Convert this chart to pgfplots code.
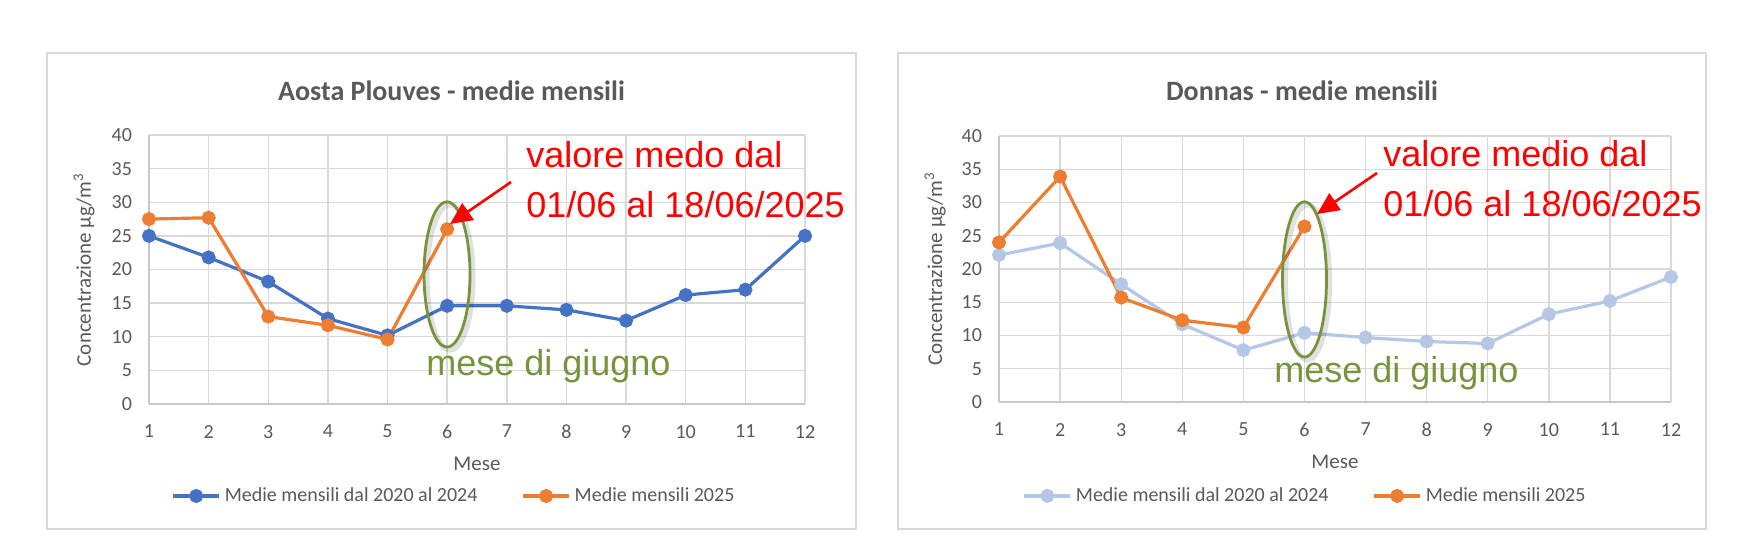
\documentclass[border=0pt]{standalone}
\usepackage{fontspec}
\setmainfont{Carlito}
\newfontfamily\arialfont{Liberation Sans}
\usepackage{pgfplots}
\pgfplotsset{compat=1.18}
\usetikzlibrary{arrows.meta}

\definecolor{serieblue}{HTML}{4472C4}
\definecolor{serieorange}{HTML}{ED7D31}
\definecolor{serielight}{HTML}{B4C7E7}
\definecolor{notegreen}{HTML}{77933C}
\definecolor{gridgray}{HTML}{D9D9D9}
\definecolor{axisgray}{HTML}{C8C8C8}
\definecolor{labelgray}{HTML}{595959}

\pgfplotsset{
  mensili/.style={
    scale only axis,
    anchor=south west,
    xmin=1, xmax=12, ymin=0, ymax=40,
    xtick={1,...,12}, ytick={0,5,...,40},
    grid=major,
    grid style={draw=gridgray, line width=0.7pt},
    axis x line*=bottom, axis y line*=left,
    axis line style={draw=axisgray, line width=0.8pt, -},
    major tick length=0pt,
    tick label style={font=\fontsize{10}{12}\selectfont, text=labelgray},
    /pgf/number format/assume math mode=true,
    xticklabel style={yshift=-7pt},
    yticklabel style={xshift=-5pt},
    xlabel={Mese},
    ylabel={Concentrazione µg/m\textsuperscript{3}},
    label style={font=\fontsize{10.5}{12}\selectfont, text=labelgray},
    xlabel style={at={(axis description cs:0.5,0)}, anchor=center, yshift=-30pt},
    legend columns=2,
    legend style={draw=none, fill=none, anchor=center,
      font=\fontsize{10}{12}\selectfont, text=labelgray,
      /tikz/every even column/.append style={column sep=20pt}},
    legend image code/.code={
      \draw[#1, mark repeat=2, mark phase=2]
        plot coordinates {(0pt,0pt) (11.5pt,0pt) (23pt,0pt)};},
  },
  serie/.style={color=#1, line width=1.6pt, mark=*, mark size=2.7pt,
    mark options={solid, fill=#1}},
}

\begin{document}
\begin{tikzpicture}
\path[use as bounding box] (0pt,0pt) rectangle (874pt,277pt);

% cornici dei due grafici
\draw[gridgray, line width=0.8pt] (23.5pt,12.5pt) rectangle (428pt,250.5pt);
\draw[gridgray, line width=0.8pt] (449pt,12.5pt) rectangle (853pt,250.5pt);

% titoli
\node[anchor=base, inner sep=0pt, text=labelgray, font=\fontsize{14}{16}\selectfont\bfseries]
  at (225.75pt,227pt) {Aosta Plouves - medie mensili};
\node[anchor=base, inner sep=0pt, text=labelgray, font=\fontsize{14}{16}\selectfont\bfseries]
  at (651pt,227pt) {Donnas - medie mensili};

% Aosta Plouves
\begin{axis}[mensili,
  at={(74.5pt,75pt)}, width=328pt, height=134.5pt,
  ylabel style={at={(axis description cs:-0.099,0.5)}, anchor=center},
  legend style={at={(axis description cs:0.4665,-0.342)}},
]
\addplot[serie=serieblue] coordinates {
  (1,25.0) (2,21.8) (3,18.2) (4,12.7) (5,10.2) (6,14.6)
  (7,14.6) (8,14.0) (9,12.4) (10,16.2) (11,17.0) (12,25.0)
};
\addplot[serie=serieorange] coordinates {
  (1,27.5) (2,27.7) (3,13.0) (4,11.7) (5,9.6) (6,26.0)
};
\legend{Medie mensili dal 2020 al 2024, Medie mensili 2025}
\end{axis}

% Donnas
\begin{axis}[mensili,
  at={(499.5pt,76pt)}, width=336pt, height=133pt,
  ylabel style={at={(axis description cs:-0.095,0.5)}, anchor=center},
  legend style={at={(axis description cs:0.457,-0.353)}},
]
\addplot[serie=serielight] coordinates {
  (1,22.1) (2,23.9) (3,17.7) (4,11.7) (5,7.8) (6,10.4)
  (7,9.7) (8,9.1) (9,8.8) (10,13.2) (11,15.2) (12,18.8)
};
\addplot[serie=serieorange] coordinates {
  (1,24.0) (2,33.9) (3,15.7) (4,12.3) (5,11.2) (6,26.4)
};
\legend{Medie mensili dal 2020 al 2024, Medie mensili 2025}
\end{axis}

% annotazioni giugno (ellisse con leggera ombra)
\draw[black, opacity=0.12, line width=2.6pt] (225pt,138.3pt) ellipse [x radius=11.5pt, y radius=36.3pt];
\draw[black, opacity=0.12, line width=2.6pt] (653.75pt,135.8pt) ellipse [x radius=11pt, y radius=38.8pt];
\draw[notegreen, line width=1.4pt] (223.5pt,139.8pt) ellipse [x radius=11.5pt, y radius=36.3pt];
\draw[notegreen, line width=1.4pt] (652.25pt,137.3pt) ellipse [x radius=11pt, y radius=38.8pt];

\draw[red, line width=1.3pt, -{Triangle[length=11pt,width=10pt]}] (255.5pt,186pt) -- (225pt,165pt);
\draw[red, line width=1.3pt, -{Triangle[length=11pt,width=10pt]}] (688.5pt,190.5pt) -- (658.5pt,170pt);

\begin{scope}[every node/.style={anchor=base west, inner sep=0pt, font=\arialfont\fontsize{18}{20}\selectfont}]
\node[text=red] at (263pt,193.5pt) {valore medo dal};
\node[text=red] at (263pt,168.5pt) {01/06 al 18/06/2025};
\node[text=red] at (691.5pt,193.7pt) {valore medio dal};
\node[text=red] at (691.5pt,169pt) {01/06 al 18/06/2025};
\node[text=notegreen] at (213pt,89.5pt) {mese di giugno};
\node[text=notegreen] at (637pt,86pt) {mese di giugno};
\end{scope}
\end{tikzpicture}
\end{document}
